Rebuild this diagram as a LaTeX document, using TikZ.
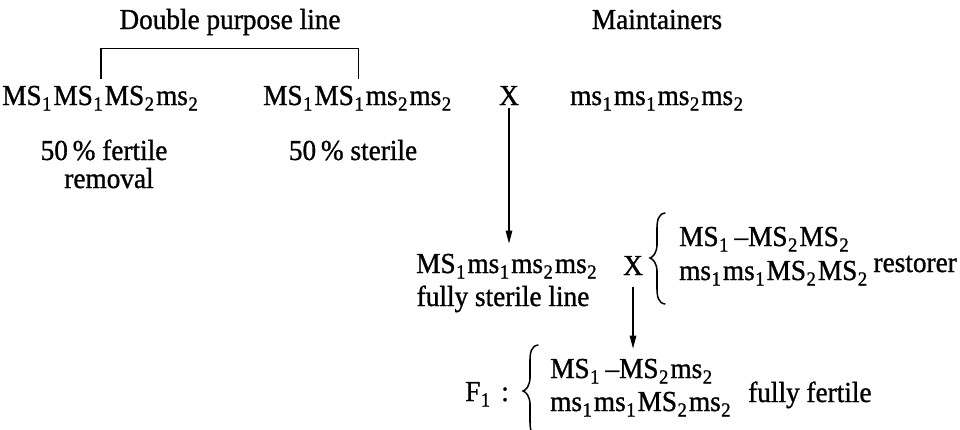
\documentclass[tikz,border=0pt]{standalone}
\usepackage{fontspec}
\setmainfont{Liberation Serif}[FakeStretch=0.94, FakeBold=1]
\usetikzlibrary{arrows.meta}
% lowered, smaller index after a gene symbol
\newcommand\sbs[1]{\kern0.5pt\raisebox{-5.5pt}{\fontsize{20}{20}\selectfont #1}\kern2pt}
% left curly brace: tip x, top y, middle y, bottom y
\newcommand\curlybrace[4]{%
  \draw[bracethin] ({#1+15},#2) .. controls ({#1+8},{#2+1}) and ({#1+7},{#2+8}) .. ({#1+7},{#2+16})
     -- ({#1+7},{#3-14}) .. controls ({#1+7},{#3-5}) and ({#1+3},{#3-1}) .. (#1,#3)
     .. controls ({#1+3},{#3+1}) and ({#1+7},{#3+5}) .. ({#1+7},{#3+14})
     -- ({#1+7},{#4-16}) .. controls ({#1+7},{#4-8}) and ({#1+8},{#4-1}) .. ({#1+15},#4);
  \draw[bracethick] ({#1+7},{#2+15}) -- ({#1+7},{#3-13});
  \draw[bracethick] ({#1+7},{#3+13}) -- ({#1+7},{#4-15});}
\begin{document}
\begin{tikzpicture}[x=1pt,y=-1pt,
  lbl/.style={inner sep=0pt, font=\fontsize{29}{33}\selectfont},
  bracethin/.style={line width=1.5pt, line cap=round},
  bracethick/.style={line width=2.9pt, line cap=round},
  conn/.style={line width=1.4pt},
  arr/.style={conn, -{Stealth[length=13pt,width=6.5pt,inset=0pt]}}]
\useasboundingbox (0,0) rectangle (960,429);

% headings
\node[lbl, anchor=base] (dpl) at (230,29) {Double purpose line};
\node[lbl, anchor=base] (mnt) at (657,29) {Maintainers};

% parental lines
\node[lbl, anchor=base west] (g1) at (2,105) {MS\sbs{1}MS\sbs{1}MS\sbs{2}ms\sbs{2}};
\node[lbl, anchor=base west] (g2) at (263,105) {MS\sbs{1}MS\sbs{1}ms\sbs{2}ms\sbs{2}};
\node[lbl, anchor=base] (x1) at (509,105) {X};
\node[lbl, anchor=base west] (g3) at (570,105) {ms\sbs{1}ms\sbs{1}ms\sbs{2}ms\sbs{2}};

\node[lbl, anchor=base] (pf) at (104,160) {50\,\% fertile};
\node[lbl, anchor=base] (rm) at (109,188) {removal};
\node[lbl, anchor=base] (ps) at (353,160) {50\,\% sterile};

% sterile line crossed with restorer
\node[lbl, anchor=base west] (g4) at (416,273) {MS\sbs{1}ms\sbs{1}ms\sbs{2}ms\sbs{2}};
\node[lbl, anchor=base] (fsl) at (503,306) {fully sterile line};
\node[lbl, anchor=base] (x2) at (633,275) {X};
\curlybrace{650}{213}{258}{304}
\node[lbl, anchor=base west] (r1) at (679,246) {MS\sbs{1}\hspace{4pt}\textendash MS\sbs{2}MS\sbs{2}};
\node[lbl, anchor=base west] (r2) at (679,280) {ms\sbs{1}ms\sbs{1}MS\sbs{2}MS\sbs{2}};
\node[lbl, anchor=base east] (rst) at (957,272) {restorer};

% hybrid generation
\node[lbl, anchor=base west] (f1) at (465,401) {F\sbs{1}\hspace{9pt}:};
\curlybrace{523}{345}{391}{437}
\node[lbl, anchor=base west] (f1a) at (550,378) {MS\sbs{1}\hspace{4pt}\textendash MS\sbs{2}ms\sbs{2}};
\node[lbl, anchor=base west] (f1b) at (550,411) {ms\sbs{1}ms\sbs{1}MS\sbs{2}ms\sbs{2}};
\node[lbl, anchor=base west] (ff) at (748,402) {fully fertile};

% bracket joining the two halves of the double purpose line
\draw[conn] ([yshift=7pt]g1.north) -- ++(0,-30) -| ([yshift=7pt]g2.north);

% crossing arrows
\draw[arr, shorten <=3pt, shorten >=10pt] (x1.south) -- (x1.south |- g4.north);
\draw[arr, shorten <=12pt, shorten >=10pt] (x2.south) -- (x2.south |- f1a.north);
\end{tikzpicture}
\end{document}
